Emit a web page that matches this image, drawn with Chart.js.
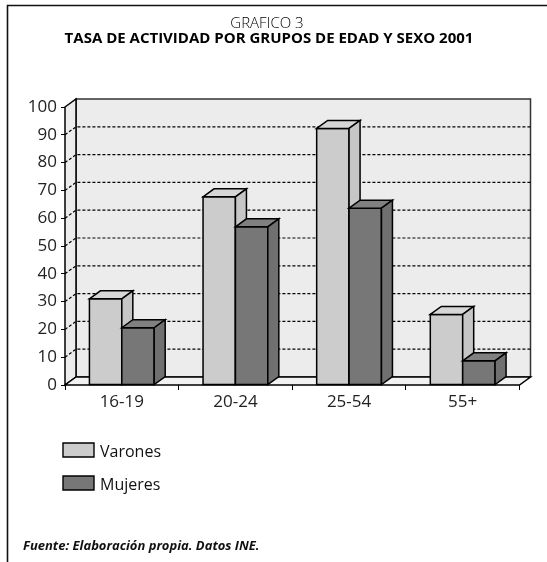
<!DOCTYPE html>
<html>
<head>
<meta charset="utf-8">
<script src="https://cdn.jsdelivr.net/npm/chart.js@4.4.1/dist/chart.umd.min.js"></script>
<style>
  html, body { margin: 0; padding: 0; background: #fff; }
  canvas { display: block; }
</style>
</head>
<body>
<canvas id="grafico" width="547" height="562"></canvas>
<script>
const categories = ['16-19', '20-24', '25-54', '55+'];
const varones = [31, 67.7, 92.3, 25.4];
const mujeres = [20.6, 56.9, 63.6, 8.7];
const seriesNames = ['Varones', 'Mujeres'];
const yMin = 0, yMax = 100, yStep = 10;

const FONT = "'Open Sans', 'DejaVu Sans', sans-serif";
const DX = 11, DY = -8; // depth of the 3d box
const faces = [
  { front: '#cccccc', top: '#d6d6d6', side: '#c6c6c6' },
  { front: '#777777', top: '#808080', side: '#707070' },
];

function poly(ctx, pts, fill, stroke, lw) {
  ctx.beginPath();
  pts.forEach((p, i) => i ? ctx.lineTo(p[0], p[1]) : ctx.moveTo(p[0], p[1]));
  ctx.closePath();
  if (fill) { ctx.fillStyle = fill; ctx.fill(); }
  if (stroke) { ctx.strokeStyle = stroke; ctx.lineWidth = lw || 1.5; ctx.stroke(); }
}

// walls, floor and dotted gridlines behind the bars
const box3d = {
  id: 'box3d',
  beforeDatasetsDraw(chart) {
    const { ctx, chartArea: a, scales: { y } } = chart;
    const L = a.left, R = a.right, T = a.top, B = a.bottom;
    ctx.save();
    ctx.lineJoin = 'miter';
    poly(ctx, [[L + DX, T + DY], [R + DX, T + DY], [R + DX, B + DY], [L + DX, B + DY]], '#ececec', '#333');
    poly(ctx, [[L, T], [L + DX, T + DY], [L + DX, B + DY], [L, B]], '#ececec', '#000');
    poly(ctx, [[L, B], [R, B], [R + DX, B + DY], [L + DX, B + DY]], '#f2f2f2', '#000');

    ctx.setLineDash([3, 2]);
    ctx.lineWidth = 1.2;
    ctx.strokeStyle = '#000';
    y.ticks.forEach(t => {
      if (t.value <= yMin || t.value >= yMax) return;
      const py = y.getPixelForValue(t.value);
      ctx.beginPath();
      ctx.moveTo(L, py);
      ctx.lineTo(L + DX, py + DY);
      ctx.lineTo(R + DX, py + DY);
      ctx.stroke();
    });
    ctx.restore();
  },
  afterDatasetsDraw(chart) {
    const { ctx } = chart;
    ctx.save();
    ctx.lineJoin = 'miter';
    chart.data.datasets.forEach((ds, i) => {
      const meta = chart.getDatasetMeta(i);
      meta.data.forEach(bar => {
        const { x, y, base, width } = bar.getProps(['x', 'y', 'base', 'width'], true);
        const l = x - width / 2, r = x + width / 2;
        const f = faces[i];
        poly(ctx, [[l, y], [r, y], [r, base], [l, base]], f.front, '#000');
        poly(ctx, [[l, y], [l + DX, y + DY], [r + DX, y + DY], [r, y]], f.top, '#000');
        poly(ctx, [[r, y], [r + DX, y + DY], [r + DX, base + DY], [r, base]], f.side, '#000');
      });
    });
    ctx.restore();
  },
  afterDraw(chart) {
    const { ctx } = chart;
    ctx.save();
    // frame
    ctx.strokeStyle = '#111';
    ctx.lineWidth = 1.6;
    ctx.beginPath();
    ctx.moveTo(547, 5.5);
    ctx.lineTo(7.5, 5.5);
    ctx.lineTo(7.5, 562);
    ctx.stroke();

    // titles
    ctx.fillStyle = '#000';
    ctx.textAlign = 'center';
    ctx.textBaseline = 'alphabetic';
    ctx.font = '300 15px ' + FONT;
    ctx.fillText('GRAFICO 3', 267, 27.5);
    ctx.font = 'bold 15px ' + FONT;
    ctx.fillText('TASA DE ACTIVIDAD POR GRUPOS DE EDAD Y SEXO 2001', 269, 43);

    // legend
    ctx.textAlign = 'left';
    ctx.font = '16px ' + FONT;
    chart.data.datasets.forEach((ds, i) => {
      const top = 443 + i * 33;
      poly(ctx, [[63, top], [94, top], [94, top + 14], [63, top + 14]], faces[i].front, '#000', 1.4);
      ctx.fillStyle = '#111';
      ctx.fillText(ds.label, 100, top + 14);
    });

    // source
    ctx.font = 'italic bold 13px ' + FONT;
    ctx.fillText('Fuente: Elaboración propia. Datos INE.', 23, 550);
    ctx.restore();
  }
};

new Chart(document.getElementById('grafico'), {
  type: 'bar',
  data: {
    labels: categories,
    datasets: [
      { label: seriesNames[0], data: varones, backgroundColor: faces[0].front, borderWidth: 0 },
      { label: seriesNames[1], data: mujeres, backgroundColor: faces[1].front, borderWidth: 0 },
    ],
  },
  options: {
    responsive: false,
    animation: false,
    events: [],
    layout: { padding: { left: 0, top: 107, right: 27.5, bottom: 147 } },
    datasets: { bar: { barPercentage: 1, categoryPercentage: 0.57 } },
    plugins: { legend: { display: false }, tooltip: { enabled: false } },
    scales: {
      x: {
        grid: { offset: true, drawOnChartArea: false, tickLength: 5, color: '#000', lineWidth: 1 },
        border: { display: false },
        ticks: { font: { family: FONT, size: 17 }, color: '#222', padding: 2 },
        afterFit: (s) => { s.height = 30; },
      },
      y: {
        min: yMin,
        max: yMax,
        grid: { drawOnChartArea: false, tickLength: 4, color: '#000', lineWidth: 1 },
        border: { display: false },
        ticks: { stepSize: yStep, font: { family: FONT, size: 17 }, color: '#222', padding: 4 },
        afterFit: (s) => { s.width = 65; },
      },
    },
  },
  plugins: [box3d],
});
</script>
</body>
</html>
